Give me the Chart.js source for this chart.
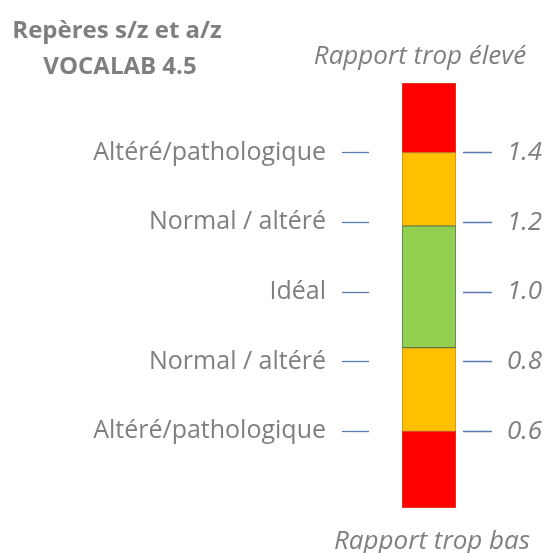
<!DOCTYPE html>
<html>
<head>
<meta charset="utf-8">
<script src="https://cdn.jsdelivr.net/npm/chart.js@4/dist/chart.umd.min.js"></script>
<style>
  html, body { margin: 0; padding: 0; background: #ffffff; }
  #wrap { width: 544px; height: 553px; position: relative; }
</style>
</head>
<body>
<div id="wrap"><canvas id="c" width="544" height="553"></canvas></div>
<script>
// ---- data ----
const categories = ['s/z, a/z'];
const segmentNames = ['Rapport trop bas', 'Normal / altéré bas', 'Idéal', 'Normal / altéré haut', 'Rapport trop élevé'];
const segmentLow  = [0.38, 0.60, 0.84, 1.19, 1.40];
const segmentHigh = [0.60, 0.84, 1.19, 1.40, 1.60];
const segmentColors = ['#FF0000', '#FFC000', '#92D050', '#FFC000', '#FF0000'];
const segmentBorders = ['#D84A2A', '#B8902A', '#4E6E58', '#B8902A', '#D84A2A'];
const tickValues = [0.6, 0.8, 1.0, 1.2, 1.4];
const leftTickLabels = ['Altéré/pathologique', 'Normal / altéré', 'Idéal', 'Normal / altéré', 'Altéré/pathologique'];
const rightTickLabels = ['0.6', '0.8', '1.0', '1.2', '1.4'];
const titleLines = ['Repères s/z et a/z', 'VOCALAB 4.5'];
const topCaption = 'Rapport trop élevé';
const bottomCaption = 'Rapport trop bas';

const GRAY = '#7f7f7f';
const TICKBLUE = '#5B7DAE';
const FONT = "'Open Sans', 'DejaVu Sans', sans-serif";

const datasets = segmentNames.map((name, i) => ({
  label: name,
  data: [[segmentLow[i], segmentHigh[i]]],
  backgroundColor: segmentColors[i],
  borderColor: segmentBorders[i],
  borderWidth: 1,
  borderSkipped: false,
  grouped: false,
  barPercentage: 1,
  categoryPercentage: 1,
  yAxisID: 'y'
}));

const captions = {
  id: 'captions',
  afterDraw(chart) {
    const ctx = chart.ctx;
    ctx.save();
    ctx.fillStyle = GRAY;
    ctx.textAlign = 'center';
    ctx.textBaseline = 'alphabetic';
    ctx.font = "bold 24px " + FONT;
    ctx.fillText(titleLines[0], 117, 38);
    ctx.fillText(titleLines[1], 120, 74);
    ctx.font = "italic 26px " + FONT;
    ctx.fillText(topCaption, 420, 64);
    ctx.fillText(bottomCaption, 432, 549);
    ctx.restore();
  }
};

new Chart(document.getElementById('c'), {
  type: 'bar',
  data: { labels: categories, datasets },
  plugins: [captions],
  options: {
    responsive: false,
    animation: false,
    layout: { padding: { top: 83, bottom: 45, left: 0, right: 0 } },
    plugins: { legend: { display: false }, tooltip: { enabled: false }, title: { display: false } },
    scales: {
      x: { display: false, stacked: false },
      y: {
        position: 'left',
        min: 0.38, max: 1.6,
        afterBuildTicks: s => { s.ticks = tickValues.map(v => ({ value: v })); },
        afterFit: s => { s.width = 402; },
        border: { display: false },
        grid: {
          drawOnChartArea: false, drawTicks: true,
          tickLength: 60, tickColor: TICKBLUE, tickWidth: 1.3,
          tickBorderDash: [27, 200]
        },
        ticks: {
          padding: 16, color: GRAY,
          font: { family: FONT, size: 25 },
          callback: (v, i) => leftTickLabels[i]
        }
      },
      y2: {
        position: 'right',
        min: 0.38, max: 1.6,
        afterBuildTicks: s => { s.ticks = tickValues.map(v => ({ value: v })); },
        afterFit: s => { s.width = 88; },
        border: { display: false },
        grid: {
          drawOnChartArea: false, drawTicks: true,
          tickLength: 37, tickColor: TICKBLUE, tickWidth: 1.3,
          tickBorderDash: [0, 7, 29, 200]
        },
        ticks: {
          padding: 14, color: GRAY,
          font: { family: FONT, size: 26, style: 'italic' },
          callback: (v, i) => rightTickLabels[i]
        }
      }
    }
  }
});
</script>
</body>
</html>
